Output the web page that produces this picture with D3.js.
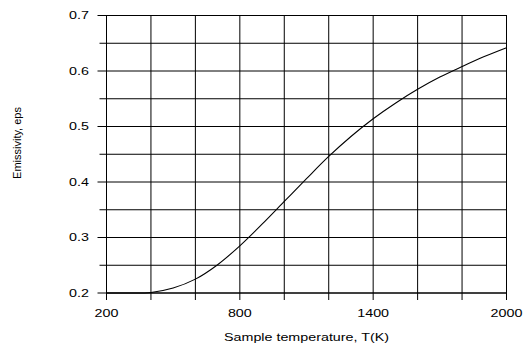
<!DOCTYPE html>
<html>
<head>
<meta charset="utf-8">
<script src="https://cdn.jsdelivr.net/npm/d3@7"></script>
<style>
  html, body { margin: 0; padding: 0; background: #fff; }
  svg { display: block; }
  text { font-family: "Liberation Sans", Arial, sans-serif; fill: #000; }
</style>
</head>
<body>
<svg id="chart" width="529" height="348"></svg>
<script>
// ---- data ----
const temperature = [200, 300, 400, 500, 600, 700, 800, 900, 1000, 1100, 1200, 1300, 1400, 1500, 1600, 1700, 1800, 1900, 2000];
const emissivity  = [0.200, 0.200, 0.201, 0.209, 0.225, 0.251, 0.285, 0.324, 0.365, 0.406, 0.446, 0.482, 0.514, 0.542, 0.567, 0.589, 0.608, 0.626, 0.642];
const xGridTicks  = [200, 400, 600, 800, 1000, 1200, 1400, 1600, 1800, 2000];
const xLabelTicks = [200, 800, 1400, 2000];
const yGridTicks  = [0.2, 0.25, 0.3, 0.35, 0.4, 0.45, 0.5, 0.55, 0.6, 0.65, 0.7];
const yLabelTicks = [0.2, 0.3, 0.4, 0.5, 0.6, 0.7];
const yMinorTicks = [0.25, 0.35, 0.45, 0.55, 0.65];
const xTitle = "Sample temperature, T(K)";
const yTitle = "Emissivity, eps";

(function () {
  // ---- layout ----
  const svg = d3.select("#chart");
  const pL = 106.5, pR = 506.5, pT = 15.5, pB = 293;
  const stretch = 1.3;

  const x = d3.scaleLinear().domain([200, 2000]).range([pL, pR]);
  const y = d3.scaleLinear().domain([0.2, 0.7]).range([pB, pT]);

  // gridlines
  const grid = svg.append("g");
  grid.append("g").selectAll("line").data(xGridTicks).join("line")
    .attr("x1", d => x(d)).attr("x2", d => x(d))
    .attr("y1", pT).attr("y2", pB)
    .attr("stroke", "#000").attr("stroke-width", 1);
  grid.append("g").selectAll("line").data(yGridTicks).join("line")
    .attr("x1", pL).attr("x2", pR)
    .attr("y1", d => y(d)).attr("y2", d => y(d))
    .attr("stroke", "#000").attr("stroke-width", 1);

  // y ticks (major and minor) outward
  svg.append("g").selectAll("line").data(yLabelTicks).join("line")
    .attr("x1", pL - 9).attr("x2", pL)
    .attr("y1", d => y(d)).attr("y2", d => y(d))
    .attr("stroke", "#000");
  svg.append("g").selectAll("line").data(yMinorTicks).join("line")
    .attr("x1", pL - 7).attr("x2", pL)
    .attr("y1", d => y(d)).attr("y2", d => y(d))
    .attr("stroke", "#000");

  // x ticks downward
  svg.append("g").selectAll("line").data(xGridTicks).join("line")
    .attr("x1", d => x(d)).attr("x2", d => x(d))
    .attr("y1", pB).attr("y2", pB + 7)
    .attr("stroke", "#000");

  // y labels
  svg.append("g").selectAll("text").data(yLabelTicks).join("text")
    .attr("transform", d => `translate(89,${y(d)}) scale(${stretch},1)`)
    .attr("text-anchor", "end").attr("dy", "0.36em")
    .style("font-size", "11px")
    .text(d => d3.format(".1f")(d));

  // x labels
  svg.append("g").selectAll("text").data(xLabelTicks).join("text")
    .attr("transform", d => `translate(${x(d)},317) scale(${stretch},1)`)
    .attr("text-anchor", "middle")
    .style("font-size", "11px")
    .text(d => d);

  // axis titles
  svg.append("text")
    .attr("transform", `translate(${(pL + pR) / 2},341) scale(${stretch},1)`)
    .attr("text-anchor", "middle")
    .style("font-size", "11px")
    .text(xTitle);

  svg.append("text")
    .attr("transform", "translate(21,143) rotate(-90)")
    .attr("text-anchor", "middle")
    .style("font-size", "11px")
    .text(yTitle);

  // frame
  svg.append("rect")
    .attr("x", pL).attr("y", pT)
    .attr("width", pR - pL).attr("height", pB - pT)
    .attr("fill", "none").attr("stroke", "#000").attr("stroke-width", 1);

  // curve
  const line = d3.line()
    .x((d, i) => x(temperature[i]))
    .y(d => y(d))
    .curve(d3.curveCatmullRom.alpha(0.5));
  svg.append("path")
    .datum(emissivity)
    .attr("d", line)
    .attr("fill", "none")
    .attr("stroke", "#000")
    .attr("stroke-width", 1.1);
})();
</script>
</body>
</html>
